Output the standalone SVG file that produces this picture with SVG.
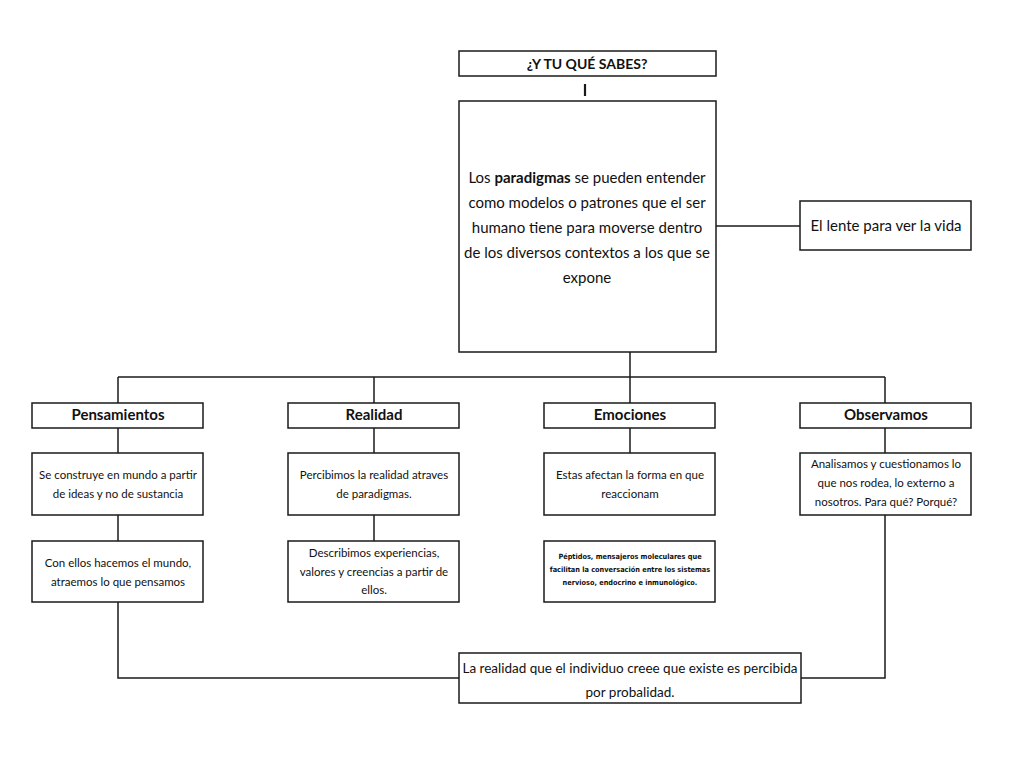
<svg xmlns="http://www.w3.org/2000/svg" width="1024" height="768" viewBox="0 0 1024 768">
<style>
.box{fill:#fff;stroke:#1a1a1a;stroke-width:1.5}
.ln{stroke:#1a1a1a;stroke-width:1.5;fill:none}
text{font-family:Lato,"Open Sans","Liberation Sans",sans-serif;fill:#111;text-anchor:middle}
.b{font-weight:bold}
.t16{font-size:15px}
.t15{font-size:15px}
.tt{font-size:14px}
.t12{font-size:11.5px}
.t14{font-size:13.5px}
.sm{font-family:"DejaVu Sans Condensed","DejaVu Sans",sans-serif;font-size:7.3px;font-weight:bold}
</style>
<rect width="1024" height="768" fill="#fff"/>
<g id="connectors">
<line class="ln" x1="585" y1="84" x2="585" y2="96" style="stroke-width:2.2"/>
<line class="ln" x1="716" y1="226" x2="800" y2="226"/>
<line class="ln" x1="630" y1="352" x2="630" y2="377"/>
<line class="ln" x1="118" y1="377" x2="885" y2="377"/>
<line class="ln" x1="118" y1="377" x2="118" y2="403"/>
<line class="ln" x1="374" y1="377" x2="374" y2="403"/>
<line class="ln" x1="630" y1="377" x2="630" y2="403"/>
<line class="ln" x1="885" y1="377" x2="885" y2="403"/>
<line class="ln" x1="118" y1="428" x2="118" y2="453"/>
<line class="ln" x1="374" y1="428" x2="374" y2="453"/>
<line class="ln" x1="630" y1="428" x2="630" y2="453"/>
<line class="ln" x1="885" y1="428" x2="885" y2="453"/>
<line class="ln" x1="118" y1="515" x2="118" y2="541"/>
<line class="ln" x1="374" y1="515" x2="374" y2="541"/>
<polyline class="ln" points="118,602 118,678 459,678"/>
<polyline class="ln" points="885,515 885,678 801,678"/>
</g>
<g id="title">
<rect class="box" x="459" y="51" width="257" height="25"/>
<text class="b tt" x="587" y="69">¿Y TU QUÉ SABES?</text>
</g>
<g id="main">
<rect class="box" x="459" y="101" width="257" height="251"/>
<text class="t16" x="587" y="183">Los <tspan class="b">paradigmas</tspan> se pueden entender</text>
<text class="t16" x="587" y="208">como modelos o patrones que el ser</text>
<text class="t16" x="587" y="233">humano tiene para moverse dentro</text>
<text class="t16" x="587" y="258">de los diversos contextos a los que se</text>
<text class="t16" x="587" y="283">expone</text>
</g>
<g id="lente">
<rect class="box" x="800" y="201" width="171" height="49"/>
<text class="t15" x="886" y="231">El lente para ver la vida</text>
</g>
<g id="pensamientos">
<rect class="box" x="32" y="403" width="171" height="25"/>
<text class="b t15" x="118" y="420">Pensamientos</text>
</g>
<g id="realidad">
<rect class="box" x="288" y="403" width="171" height="25"/>
<text class="b t15" x="374" y="420">Realidad</text>
</g>
<g id="emociones">
<rect class="box" x="544" y="403" width="171" height="25"/>
<text class="b t15" x="630" y="420">Emociones</text>
</g>
<g id="observamos">
<rect class="box" x="800" y="403" width="171" height="25"/>
<text class="b t15" x="886" y="420">Observamos</text>
</g>
<g id="pens2">
<rect class="box" x="32" y="453" width="171" height="62"/>
<text class="t12" x="118" y="479">Se construye en mundo a partir</text>
<text class="t12" x="118" y="498">de ideas y no de sustancia</text>
</g>
<g id="pens3">
<rect class="box" x="32" y="541" width="171" height="61"/>
<text class="t12" x="118" y="567">Con ellos hacemos el mundo,</text>
<text class="t12" x="118" y="586">atraemos lo que pensamos</text>
</g>
<g id="real2">
<rect class="box" x="288" y="453" width="171" height="62"/>
<text class="t12" x="374" y="479">Percibimos la realidad atraves</text>
<text class="t12" x="374" y="498">de paradigmas.</text>
</g>
<g id="real3">
<rect class="box" x="288" y="541" width="171" height="61"/>
<text class="t12" x="374" y="557">Describimos experiencias,</text>
<text class="t12" x="374" y="576">valores y creencias a partir de</text>
<text class="t12" x="374" y="594">ellos.</text>
</g>
<g id="emo2">
<rect class="box" x="544" y="453" width="171" height="62"/>
<text class="t12" x="630" y="479">Estas afectan la forma en que</text>
<text class="t12" x="630" y="498">reaccionam</text>
</g>
<g id="emo3">
<rect class="box" x="544" y="541" width="171" height="61"/>
<text class="sm" x="630" y="559">Péptidos, mensajeros moleculares que</text>
<text class="sm" x="630" y="572">facilitan la conversación entre los sistemas</text>
<text class="sm" x="630" y="585">nervioso, endocrino e inmunológico.</text>
</g>
<g id="obs2">
<rect class="box" x="800" y="453" width="171" height="62"/>
<text class="t12" x="886" y="468">Analisamos y cuestionamos lo</text>
<text class="t12" x="886" y="487">que nos rodea, lo externo a</text>
<text class="t12" x="886" y="506">nosotros. Para qué? Porqué?</text>
</g>
<g id="bottom">
<rect class="box" x="459" y="653" width="342" height="50"/>
<text class="t14" x="630" y="673">La realidad que el individuo creee que existe es percibida</text>
<text class="t14" x="630" y="697">por probalidad.</text>
</g>
</svg>
